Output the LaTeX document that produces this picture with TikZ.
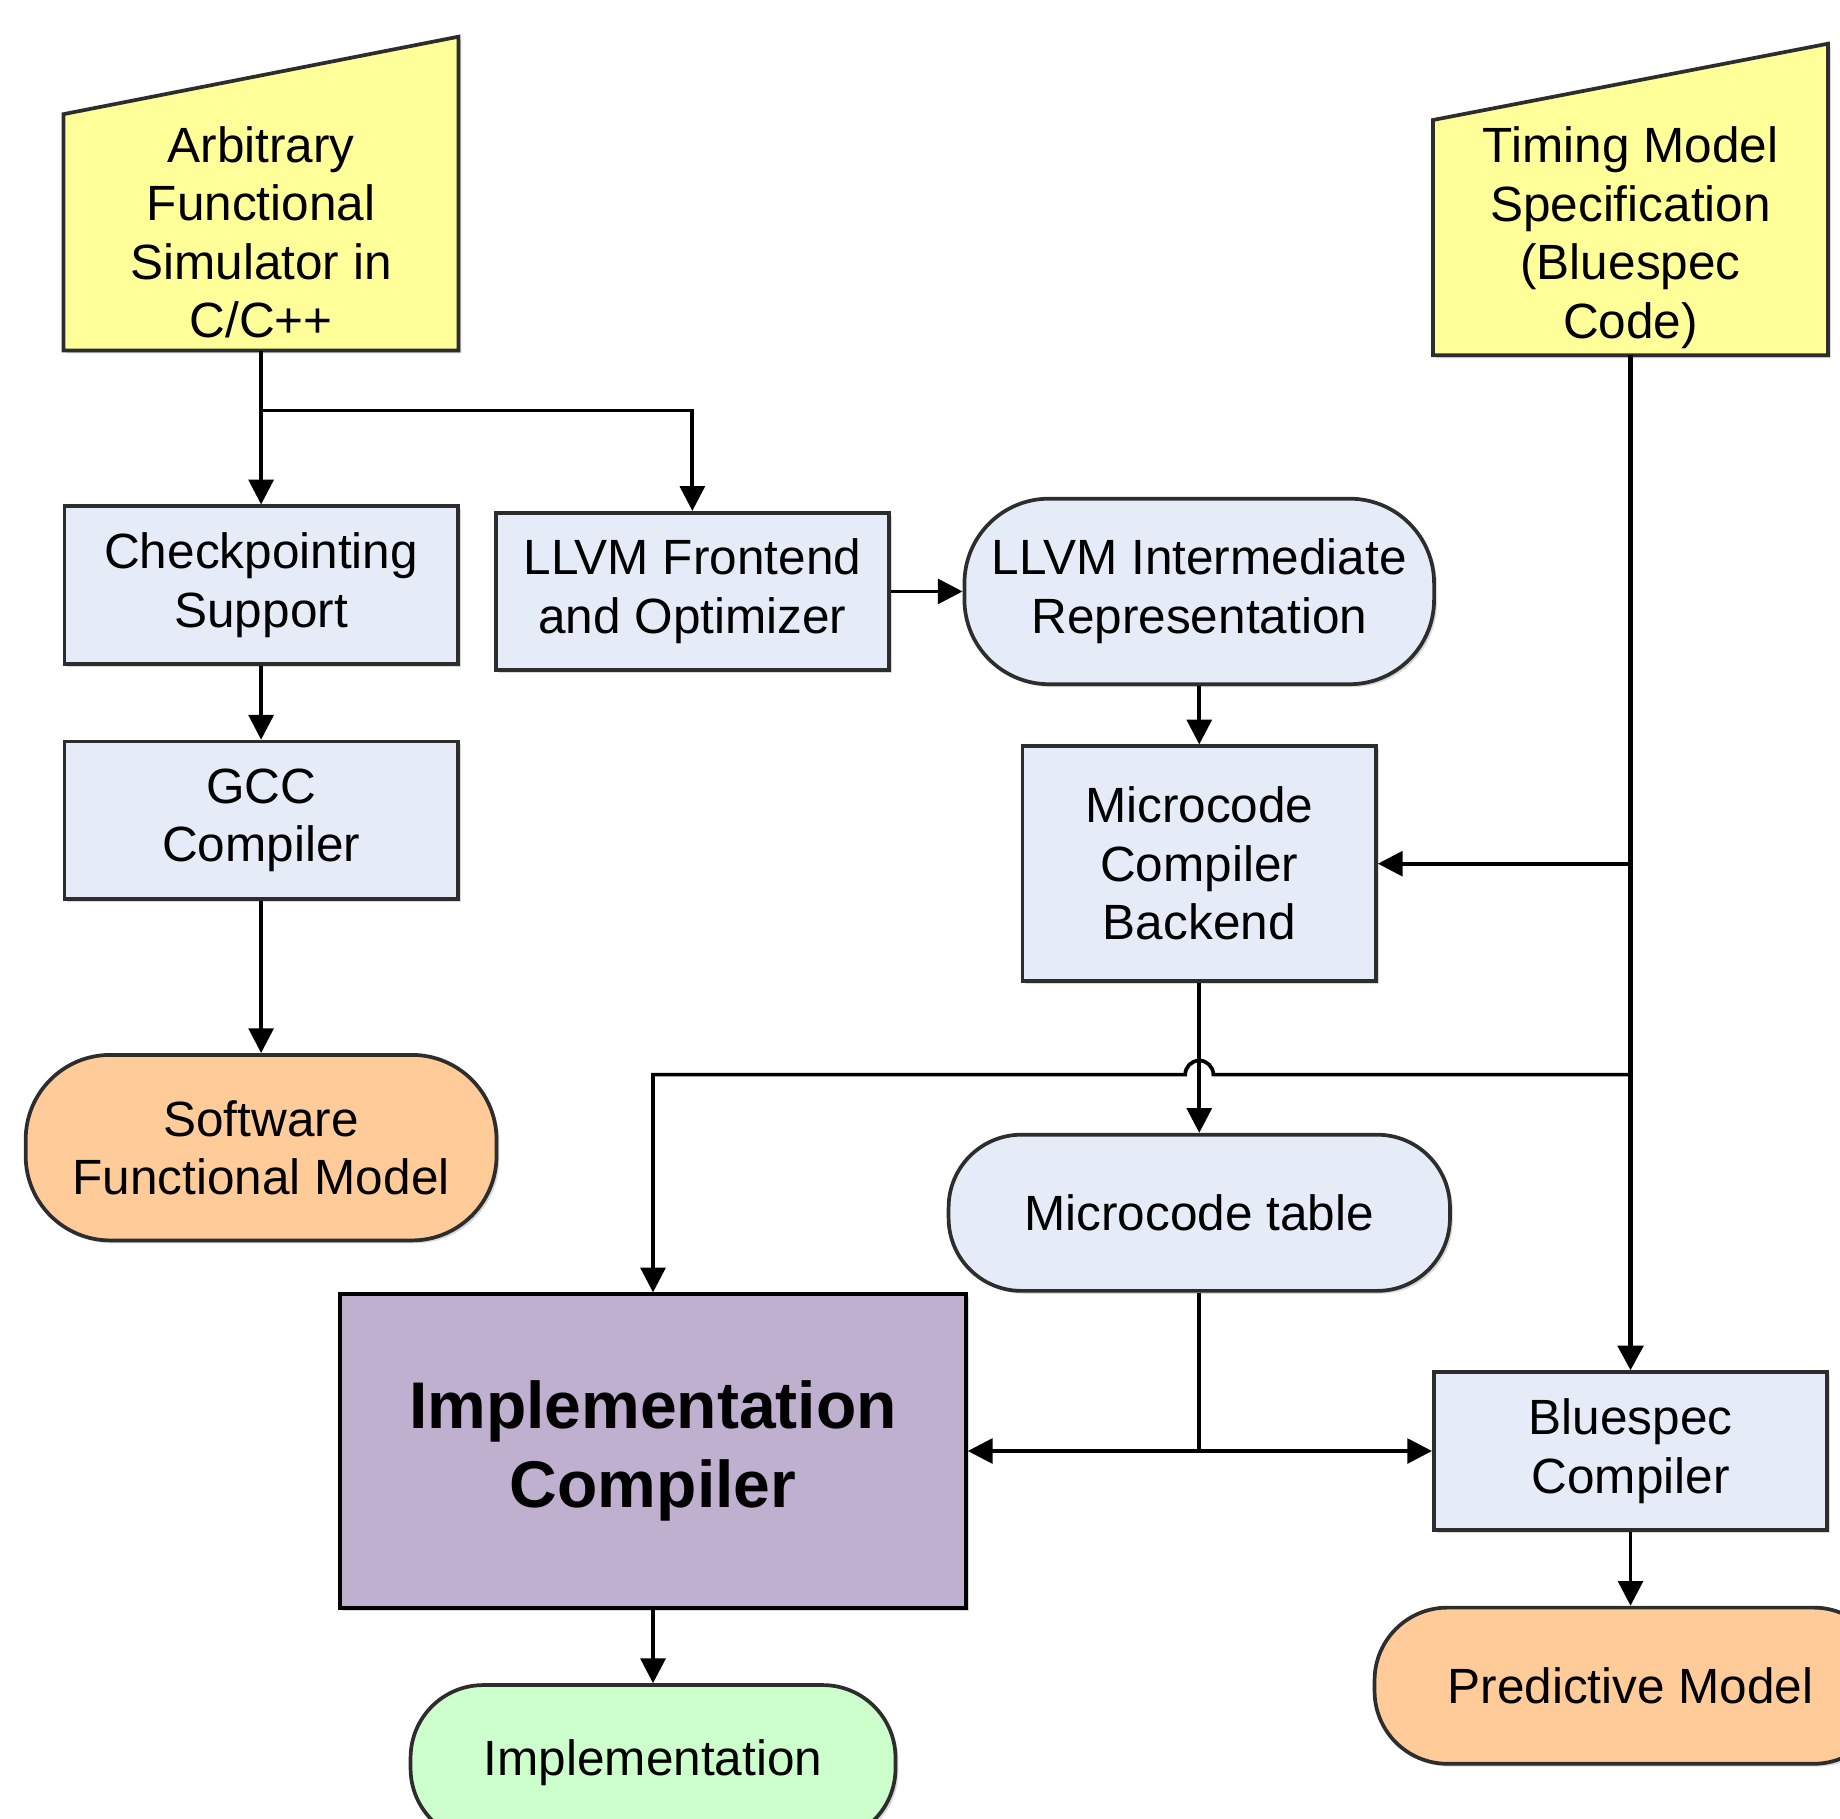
\documentclass[tikz,border=0pt]{standalone}
\usepackage{fontspec}
\setmainfont{Liberation Sans}
\usetikzlibrary{arrows.meta,calc,positioning,backgrounds,shadows}
\definecolor{inyellow}{RGB}{255,255,153}
\definecolor{procblue}{RGB}{230,236,247}
\definecolor{outorange}{RGB}{255,204,153}
\definecolor{implpurple}{RGB}{191,176,208}
\definecolor{implgreen}{RGB}{204,255,204}
\definecolor{edgegray}{RGB}{45,45,45}

\begin{document}
\begin{tikzpicture}[
    x=0.01cm,y=0.01cm,
    >={Triangle[length=6pt,width=6pt]},
    font=\fontsize{12}{14.2}\selectfont,
    flshadow/.style={drop shadow={opacity=0.3,shadow xshift=0.7pt,shadow yshift=-0.7pt}},
    flin/.style={align=center,inner sep=0pt,minimum width=3.35cm,minimum height=2cm},
    flinshape/.style={draw=edgegray,line width=0.9pt,fill=inyellow,flshadow},
    flbox/.style={draw=edgegray,line width=0.9pt,fill=procblue,align=center,
      minimum width=3.35cm,minimum height=1.34cm,flshadow},
    flterm/.style={draw=edgegray,line width=0.9pt,align=center,rounded corners=0.62cm,
      minimum height=1.33cm,flshadow},
    flline/.style={line width=0.9pt,draw=black}]
  \useasboundingbox (0,0) rectangle (1568,-1550);

  % inputs
  \node[flin] (arb) at (222.5,-198) {Arbitrary\\Functional\\Simulator in\\C/C++};
  \node[flin,minimum height=1.99cm] (tim) at (1389.5,-202.5) {Timing Model\\Specification\\(Bluespec\\Code)};
  \begin{scope}[on background layer]
    \draw[flinshape] (arb.south west) -- (arb.north west) -- ($(arb.north east)+(0,66)$) -- (arb.south east) -- cycle;
    \draw[flinshape] (tim.south west) -- (tim.north west) -- ($(tim.north east)+(0,65)$) -- (tim.south east) -- cycle;
  \end{scope}

  % processing steps
  \node[flbox] (cps) at (222.5,-498.5) {Checkpointing\\Support};
  \node[flbox] (gcc) at (222.5,-699) {GCC\\Compiler};
  \node[flbox] (llf) at (590,-504) {LLVM Frontend\\and Optimizer};
  \node[flterm,fill=procblue,minimum width=4cm,minimum height=1.58cm,rounded corners=0.72cm] (lir) at (1022,-504) {LLVM Intermediate\\Representation};
  \node[flbox,minimum width=3.01cm,minimum height=2cm] (mcb) at (1022,-736) {Microcode\\Compiler\\Backend};
  \node[flterm,fill=procblue,minimum width=4.27cm] (mct) at (1022,-1033.5) {Microcode table};
  \node[flbox,draw=black,fill=implpurple,minimum width=5.33cm,minimum height=2.67cm,
    font=\fontsize{16}{19.3}\selectfont\bfseries] (ic) at (556.5,-1236.5) {Implementation\\Compiler};
  \node[flbox] (bsc) at (1389.5,-1236.5) {Bluespec\\Compiler};

  % outputs
  \node[flterm,fill=outorange,minimum width=4.01cm,minimum height=1.58cm,rounded corners=0.72cm] (sfm) at (222.5,-978) {Software\\Functional Model};
  \node[flterm,fill=outorange,minimum width=4.36cm] (pm) at (1389.5,-1436.5) {Predictive Model};
  \node[flterm,fill=implgreen,minimum width=4.13cm] (imp) at (556.5,-1502.5) {Implementation};

  % software path
  \coordinate (aj) at ($(arb.south)+(0,-51)$);
  \draw[flline,->] (arb.south) -- (cps.north);
  \draw[flline,->] (aj) -| (llf.north);
  \draw[flline,->] (cps.south) -- (gcc.north);
  \draw[flline,->] (gcc.south) -- (sfm.north);
  \draw[flline,->] (llf.east) -- (lir.west);
  \draw[flline,->] (lir.south) -- (mcb.north);
  \draw[flline,->] (mcb.south) -- (mct.north);

  % timing model path
  \coordinate (tj1) at (tim.south |- mcb.east);
  \coordinate (tj2) at ($(tim.south)+(0,-613)$);
  \draw[flline,line width=1.4pt,->] (tim.south) -- (bsc.north);
  \draw[flline,->] (tj1) -- (mcb.east);
  \draw[flline,->] (tj2) -- ($(mcb.south |- tj2)+(12,0)$) arc[start angle=0,end angle=180,radius=12]
    -- (ic.north |- tj2) -- (ic.north);

  % microcode table fan-out
  \coordinate (mj) at (mct.south |- ic.east);
  \draw[flline] (mct.south) -- (mj);
  \draw[flline,->] (mj) -- (ic.east);
  \draw[flline,->] (mj) -- (bsc.west);
  \draw[flline,->] (ic.south) -- (imp.north);
  \draw[flline,->] (bsc.south) -- (pm.north);
\end{tikzpicture}
\end{document}
